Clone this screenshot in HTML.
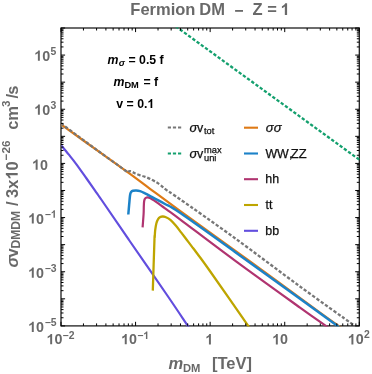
<!DOCTYPE html>
<html><head><meta charset="utf-8"><title>Fermion DM - Z = 1</title>
<style>html,body{margin:0;padding:0;background:#fff;}body{width:372px;height:374px;overflow:hidden;font-family:"Liberation Sans",sans-serif;}</style>
</head><body>
<div id="plot" style="width:372px;height:374px;will-change:transform;background:#fff">
<svg width="372" height="374" viewBox="0 0 372 374" style="display:block;font-family:'Liberation Sans',sans-serif">
<rect width="372" height="374" fill="#fff"/>
<defs><clipPath id="c"><rect x="61.5" y="27.4" width="298.40000000000003" height="299.09999999999997"/></clipPath></defs>
<rect x="61.0" y="28.0" width="298.3" height="297.9" fill="none" stroke="#161616" stroke-width="1.25"/>
<g clip-path="url(#c)" fill="none" stroke-linejoin="round">
<path d="M61.00 145.10C62.27 146.65 66.14 151.28 68.65 154.40C71.16 157.52 73.14 159.87 76.06 163.80C78.98 167.73 83.03 173.53 86.20 178.00C89.37 182.47 92.48 186.93 95.05 190.60C97.62 194.27 95.94 191.77 101.60 200.00C107.26 208.23 118.10 224.17 129.00 240.00C139.90 255.83 157.22 280.72 167.00 295.00C176.78 309.28 182.92 318.61 187.70 325.70C192.48 332.79 194.37 335.59 195.70 337.56" stroke="#624EDE" stroke-width="2.2"/>
<path d="M152.80 290.60C153.08 282.17 154.13 248.88 154.45 240.00C154.77 231.12 154.57 238.93 154.70 237.30C154.82 235.67 154.92 232.53 155.20 230.20C155.48 227.87 155.92 225.15 156.40 223.30C156.88 221.45 157.45 220.15 158.10 219.10C158.75 218.05 159.55 217.43 160.30 217.00C161.05 216.57 161.75 216.50 162.60 216.50C163.45 216.50 164.10 216.43 165.40 217.00C166.70 217.57 168.68 218.47 170.40 219.90C172.12 221.33 173.97 223.52 175.75 225.60C177.53 227.68 179.31 230.08 181.10 232.40C182.89 234.72 184.70 237.13 186.50 239.50C188.30 241.87 190.28 244.47 191.90 246.60C193.52 248.73 193.32 248.40 196.20 252.30C199.08 256.20 200.53 257.73 209.20 270.00C217.87 282.27 240.37 314.67 248.20 325.90C256.03 337.13 254.87 335.46 256.20 337.37" stroke="#BEA500" stroke-width="2.3"/>
<path d="M142.60 227.40C142.77 225.17 143.40 217.47 143.60 214.00C143.80 210.53 143.72 208.68 143.80 206.60C143.88 204.52 143.93 202.77 144.10 201.50C144.27 200.23 144.52 199.60 144.80 199.00C145.08 198.40 145.37 198.17 145.80 197.90C146.23 197.63 146.60 197.33 147.40 197.40C148.20 197.47 149.50 197.80 150.60 198.30C151.70 198.80 151.60 198.72 154.00 200.40C156.40 202.08 160.67 205.25 165.00 208.40C169.33 211.55 168.33 210.60 180.00 219.30C191.67 228.00 215.00 245.88 235.00 260.60C255.00 275.32 284.87 296.72 300.00 307.60C315.13 318.48 320.17 321.90 325.80 325.90C331.43 329.90 332.47 330.63 333.80 331.57" stroke="#B03470" stroke-width="2.2"/>
<path d="M61.00 124.50C67.50 129.15 88.50 144.17 100.00 152.40C111.50 160.63 121.67 167.83 130.00 173.90C138.33 179.97 141.67 182.63 150.00 188.80C158.33 194.97 163.33 198.78 180.00 210.90C196.67 223.02 226.67 244.55 250.00 261.50C273.33 278.45 305.23 301.87 320.00 312.60C334.77 323.33 334.17 322.73 338.60 325.90C343.03 329.07 345.27 330.67 346.60 331.62" stroke="#DE7A16" stroke-width="2.2"/>
<path d="M128.30 214.50C128.45 212.78 128.93 207.20 129.20 204.20C129.47 201.20 129.70 198.28 129.90 196.50C130.10 194.72 130.18 194.28 130.40 193.50C130.62 192.72 130.77 192.25 131.20 191.80C131.63 191.35 132.18 191.03 133.00 190.80C133.82 190.57 134.92 190.35 136.10 190.40C137.28 190.45 138.62 190.62 140.10 191.10C141.58 191.58 143.38 192.52 145.00 193.30C146.62 194.08 148.30 194.98 149.80 195.80C151.30 196.62 151.47 196.83 154.00 198.20C156.53 199.57 160.67 201.57 165.00 204.00C169.33 206.43 168.33 204.82 180.00 212.80C191.67 220.78 215.00 237.58 235.00 251.90C255.00 266.23 283.02 286.47 300.00 298.75C316.98 311.03 329.42 320.15 336.90 325.60C344.38 331.05 343.57 330.45 344.90 331.42" stroke="#1C82C8" stroke-width="2.5"/>
<path d="M61.00 123.40C64.17 125.77 73.50 132.78 80.00 137.60C86.50 142.42 93.33 147.47 100.00 152.30C106.67 157.13 115.40 163.30 120.00 166.60C124.60 169.90 126.17 171.28 127.60 172.10C129.03 172.92 128.17 171.65 128.60 171.50C129.03 171.35 129.55 171.12 130.20 171.20C130.85 171.28 131.72 171.65 132.50 172.00C133.28 172.35 133.70 172.77 134.90 173.30C136.10 173.83 138.08 174.63 139.70 175.20C141.32 175.77 142.98 176.13 144.60 176.70C146.22 177.27 147.67 177.80 149.40 178.60C151.13 179.40 153.18 180.45 155.00 181.50C156.82 182.55 158.25 183.38 160.30 184.90C162.35 186.42 164.02 188.22 167.30 190.60C170.58 192.98 168.72 191.27 180.00 199.20C191.28 207.13 215.00 223.65 235.00 238.20C255.00 252.75 280.03 271.88 300.00 286.50C319.97 301.12 344.33 318.37 354.80 325.90C365.27 333.43 361.47 330.69 362.80 331.65" stroke="#777" stroke-width="2.3" stroke-dasharray="3.3 1.9"/>
<path d="M164.23 18 L362 161.64" stroke="#14A06E" stroke-width="2.3" stroke-dasharray="3.3 1.9" stroke-dashoffset="1.5"/>
</g>
<path d="M61.00 325.9v-4.1M61.00 28.0v4.1M83.45 325.9v-2.5M83.45 28.0v2.5M96.58 325.9v-2.5M96.58 28.0v2.5M105.90 325.9v-2.5M105.90 28.0v2.5M113.13 325.9v-2.5M113.13 28.0v2.5M119.03 325.9v-2.5M119.03 28.0v2.5M124.02 325.9v-2.5M124.02 28.0v2.5M128.35 325.9v-2.5M128.35 28.0v2.5M132.16 325.9v-2.5M132.16 28.0v2.5M135.57 325.9v-4.1M135.57 28.0v4.1M158.02 325.9v-2.5M158.02 28.0v2.5M171.16 325.9v-2.5M171.16 28.0v2.5M180.47 325.9v-2.5M180.47 28.0v2.5M187.70 325.9v-2.5M187.70 28.0v2.5M193.61 325.9v-2.5M193.61 28.0v2.5M198.60 325.9v-2.5M198.60 28.0v2.5M202.92 325.9v-2.5M202.92 28.0v2.5M206.74 325.9v-2.5M206.74 28.0v2.5M210.15 325.9v-4.1M210.15 28.0v4.1M232.60 325.9v-2.5M232.60 28.0v2.5M245.73 325.9v-2.5M245.73 28.0v2.5M255.05 325.9v-2.5M255.05 28.0v2.5M262.28 325.9v-2.5M262.28 28.0v2.5M268.18 325.9v-2.5M268.18 28.0v2.5M273.17 325.9v-2.5M273.17 28.0v2.5M277.50 325.9v-2.5M277.50 28.0v2.5M281.31 325.9v-2.5M281.31 28.0v2.5M284.73 325.9v-4.1M284.73 28.0v4.1M307.17 325.9v-2.5M307.17 28.0v2.5M320.31 325.9v-2.5M320.31 28.0v2.5M329.62 325.9v-2.5M329.62 28.0v2.5M336.85 325.9v-2.5M336.85 28.0v2.5M342.76 325.9v-2.5M342.76 28.0v2.5M347.75 325.9v-2.5M347.75 28.0v2.5M352.07 325.9v-2.5M352.07 28.0v2.5M355.89 325.9v-2.5M355.89 28.0v2.5M359.30 325.9v-4.1M359.30 28.0v4.1M61.0 325.90h4.1M359.3 325.90h-4.1M61.0 317.75h2.5M359.3 317.75h-2.5M61.0 312.98h2.5M359.3 312.98h-2.5M61.0 309.60h2.5M359.3 309.60h-2.5M61.0 306.97h2.5M359.3 306.97h-2.5M61.0 304.83h2.5M359.3 304.83h-2.5M61.0 303.01h2.5M359.3 303.01h-2.5M61.0 301.44h2.5M359.3 301.44h-2.5M61.0 300.06h2.5M359.3 300.06h-2.5M61.0 298.82h4.1M359.3 298.82h-4.1M61.0 290.67h2.5M359.3 290.67h-2.5M61.0 285.90h2.5M359.3 285.90h-2.5M61.0 282.51h2.5M359.3 282.51h-2.5M61.0 279.89h2.5M359.3 279.89h-2.5M61.0 277.74h2.5M359.3 277.74h-2.5M61.0 275.93h2.5M359.3 275.93h-2.5M61.0 274.36h2.5M359.3 274.36h-2.5M61.0 272.98h2.5M359.3 272.98h-2.5M61.0 271.74h4.1M359.3 271.74h-4.1M61.0 263.58h2.5M359.3 263.58h-2.5M61.0 258.82h2.5M359.3 258.82h-2.5M61.0 255.43h2.5M359.3 255.43h-2.5M61.0 252.81h2.5M359.3 252.81h-2.5M61.0 250.66h2.5M359.3 250.66h-2.5M61.0 248.85h2.5M359.3 248.85h-2.5M61.0 247.28h2.5M359.3 247.28h-2.5M61.0 245.89h2.5M359.3 245.89h-2.5M61.0 244.65h4.1M359.3 244.65h-4.1M61.0 236.50h2.5M359.3 236.50h-2.5M61.0 231.73h2.5M359.3 231.73h-2.5M61.0 228.35h2.5M359.3 228.35h-2.5M61.0 225.73h2.5M359.3 225.73h-2.5M61.0 223.58h2.5M359.3 223.58h-2.5M61.0 221.77h2.5M359.3 221.77h-2.5M61.0 220.20h2.5M359.3 220.20h-2.5M61.0 218.81h2.5M359.3 218.81h-2.5M61.0 217.57h4.1M359.3 217.57h-4.1M61.0 209.42h2.5M359.3 209.42h-2.5M61.0 204.65h2.5M359.3 204.65h-2.5M61.0 201.27h2.5M359.3 201.27h-2.5M61.0 198.64h2.5M359.3 198.64h-2.5M61.0 196.50h2.5M359.3 196.50h-2.5M61.0 194.69h2.5M359.3 194.69h-2.5M61.0 193.12h2.5M359.3 193.12h-2.5M61.0 191.73h2.5M359.3 191.73h-2.5M61.0 190.49h4.1M359.3 190.49h-4.1M61.0 182.34h2.5M359.3 182.34h-2.5M61.0 177.57h2.5M359.3 177.57h-2.5M61.0 174.19h2.5M359.3 174.19h-2.5M61.0 171.56h2.5M359.3 171.56h-2.5M61.0 169.42h2.5M359.3 169.42h-2.5M61.0 167.60h2.5M359.3 167.60h-2.5M61.0 166.03h2.5M359.3 166.03h-2.5M61.0 164.65h2.5M359.3 164.65h-2.5M61.0 163.41h4.1M359.3 163.41h-4.1M61.0 155.26h2.5M359.3 155.26h-2.5M61.0 150.49h2.5M359.3 150.49h-2.5M61.0 147.10h2.5M359.3 147.10h-2.5M61.0 144.48h2.5M359.3 144.48h-2.5M61.0 142.34h2.5M359.3 142.34h-2.5M61.0 140.52h2.5M359.3 140.52h-2.5M61.0 138.95h2.5M359.3 138.95h-2.5M61.0 137.57h2.5M359.3 137.57h-2.5M61.0 136.33h4.1M359.3 136.33h-4.1M61.0 128.17h2.5M359.3 128.17h-2.5M61.0 123.41h2.5M359.3 123.41h-2.5M61.0 120.02h2.5M359.3 120.02h-2.5M61.0 117.40h2.5M359.3 117.40h-2.5M61.0 115.25h2.5M359.3 115.25h-2.5M61.0 113.44h2.5M359.3 113.44h-2.5M61.0 111.87h2.5M359.3 111.87h-2.5M61.0 110.48h2.5M359.3 110.48h-2.5M61.0 109.25h4.1M359.3 109.25h-4.1M61.0 101.09h2.5M359.3 101.09h-2.5M61.0 96.32h2.5M359.3 96.32h-2.5M61.0 92.94h2.5M359.3 92.94h-2.5M61.0 90.32h2.5M359.3 90.32h-2.5M61.0 88.17h2.5M359.3 88.17h-2.5M61.0 86.36h2.5M359.3 86.36h-2.5M61.0 84.79h2.5M359.3 84.79h-2.5M61.0 83.40h2.5M359.3 83.40h-2.5M61.0 82.16h4.1M359.3 82.16h-4.1M61.0 74.01h2.5M359.3 74.01h-2.5M61.0 69.24h2.5M359.3 69.24h-2.5M61.0 65.86h2.5M359.3 65.86h-2.5M61.0 63.23h2.5M359.3 63.23h-2.5M61.0 61.09h2.5M359.3 61.09h-2.5M61.0 59.28h2.5M359.3 59.28h-2.5M61.0 57.71h2.5M359.3 57.71h-2.5M61.0 56.32h2.5M359.3 56.32h-2.5M61.0 55.08h4.1M359.3 55.08h-4.1M61.0 46.93h2.5M359.3 46.93h-2.5M61.0 42.16h2.5M359.3 42.16h-2.5M61.0 38.78h2.5M359.3 38.78h-2.5M61.0 36.15h2.5M359.3 36.15h-2.5M61.0 34.01h2.5M359.3 34.01h-2.5M61.0 32.20h2.5M359.3 32.20h-2.5M61.0 30.62h2.5M359.3 30.62h-2.5M61.0 29.24h2.5M359.3 29.24h-2.5M61.0 28.00h4.1M359.3 28.00h-4.1" stroke="#000" stroke-width="1.0" fill="none"/>
<g font-weight="bold" font-size="16.5" fill="#696969">
<text x="130.3" y="15.0">Fermion</text>
<text x="199.3" y="15.0">DM</text>
<text x="252.5" y="15.0">Z</text>
<text x="267.2" y="15.0">=</text>
<path transform="translate(280.60,15.00) scale(0.008057,-0.008057)" d="M806 0H525V1059Q371 915 162 846V1101Q272 1137 401 1237.5Q530 1338 578 1472H806Z"/>
<rect x="235.1" y="10.0" width="7.9" height="1.8"/>
</g>
<g font-weight="bold" fill="#696969">
<path transform="translate(46.52,344.20) scale(0.006982,-0.006982)" d="M806 0H525V1059Q371 915 162 846V1101Q272 1137 401 1237.5Q530 1338 578 1472H806Z"/><text x="54.47" y="344.20" font-size="14.3" xml:space="preserve">0</text>
<text x="62.62" y="338.90" font-size="10.4" xml:space="preserve">−2</text>
<path transform="translate(121.10,344.30) scale(0.006982,-0.006982)" d="M806 0H525V1059Q371 915 162 846V1101Q272 1137 401 1237.5Q530 1338 578 1472H806Z"/><text x="129.05" y="344.30" font-size="14.3" xml:space="preserve">0</text>
<text x="137.20" y="338.90" font-size="10.4" xml:space="preserve">−</text><path transform="translate(143.27,338.90) scale(0.005078,-0.005078)" d="M806 0H525V1059Q371 915 162 846V1101Q272 1137 401 1237.5Q530 1338 578 1472H806Z"/>
<path transform="translate(205.27,344.40) scale(0.006982,-0.006982)" d="M806 0H525V1059Q371 915 162 846V1101Q272 1137 401 1237.5Q530 1338 578 1472H806Z"/>
<path transform="translate(272.17,344.40) scale(0.006982,-0.006982)" d="M806 0H525V1059Q371 915 162 846V1101Q272 1137 401 1237.5Q530 1338 578 1472H806Z"/><text x="280.12" y="344.40" font-size="14.3" xml:space="preserve">0</text>
<path transform="translate(347.76,344.40) scale(0.006982,-0.006982)" d="M806 0H525V1059Q371 915 162 846V1101Q272 1137 401 1237.5Q530 1338 578 1472H806Z"/><text x="355.71" y="344.40" font-size="14.3" xml:space="preserve">0</text>
<text x="363.96" y="338.20" font-size="10.4" xml:space="preserve">2</text>
<text x="50.62" y="55.28" font-size="10.4" xml:space="preserve">5</text>
<path transform="translate(34.22,60.68) scale(0.006982,-0.006982)" d="M806 0H525V1059Q371 915 162 846V1101Q272 1137 401 1237.5Q530 1338 578 1472H806Z"/><text x="42.17" y="60.68" font-size="14.3" xml:space="preserve">0</text>
<text x="50.62" y="109.45" font-size="10.4" xml:space="preserve">3</text>
<path transform="translate(34.22,114.85) scale(0.006982,-0.006982)" d="M806 0H525V1059Q371 915 162 846V1101Q272 1137 401 1237.5Q530 1338 578 1472H806Z"/><text x="42.17" y="114.85" font-size="14.3" xml:space="preserve">0</text>
<path transform="translate(32.00,169.71) scale(0.006982,-0.006982)" d="M806 0H525V1059Q371 915 162 846V1101Q272 1137 401 1237.5Q530 1338 578 1472H806Z"/><text x="39.95" y="169.71" font-size="14.3" xml:space="preserve">0</text>
<text x="44.74" y="217.72" font-size="10.4" xml:space="preserve">−</text><path transform="translate(50.82,217.72) scale(0.005078,-0.005078)" d="M806 0H525V1059Q371 915 162 846V1101Q272 1137 401 1237.5Q530 1338 578 1472H806Z"/>
<path transform="translate(28.14,223.62) scale(0.006982,-0.006982)" d="M806 0H525V1059Q371 915 162 846V1101Q272 1137 401 1237.5Q530 1338 578 1472H806Z"/><text x="36.09" y="223.62" font-size="14.3" xml:space="preserve">0</text>
<text x="44.74" y="271.89" font-size="10.4" xml:space="preserve">−3</text>
<path transform="translate(28.14,277.79) scale(0.006982,-0.006982)" d="M806 0H525V1059Q371 915 162 846V1101Q272 1137 401 1237.5Q530 1338 578 1472H806Z"/><text x="36.09" y="277.79" font-size="14.3" xml:space="preserve">0</text>
<text x="44.74" y="326.05" font-size="10.4" xml:space="preserve">−5</text>
<path transform="translate(28.14,331.95) scale(0.006982,-0.006982)" d="M806 0H525V1059Q371 915 162 846V1101Q272 1137 401 1237.5Q530 1338 578 1472H806Z"/><text x="36.09" y="331.95" font-size="14.3" xml:space="preserve">0</text>
</g>
<g font-weight="bold" fill="#696969">
<text x="168.4" y="369.3" font-size="16.5" font-style="italic">m</text>
<text x="183.0" y="371.8" font-size="11.2">DM</text>
<text x="212" y="369.3" font-size="16.5">[TeV]</text>
</g>
<g font-weight="bold" fill="#696969" transform="translate(17.7,267.4) rotate(-90)">
<text x="0" y="0" font-size="16.5" font-style="italic">σ</text>
<text x="9.9" y="0" font-size="16.5">v</text>
<text x="19.0" y="2.4" font-size="12">DMDM</text>
<text x="61.4" y="0" font-size="16.5">/</text>
<text x="69.50" y="0.00" font-size="16.5" xml:space="preserve">3x</text><path transform="translate(87.85,0.00) scale(0.008057,-0.008057)" d="M806 0H525V1059Q371 915 162 846V1101Q272 1137 401 1237.5Q530 1338 578 1472H806Z"/><text x="97.02" y="0.00" font-size="16.5" xml:space="preserve">0</text>
<text x="107.1" y="-7.6" font-size="11.7">−26</text>
<text x="137.6" y="0" font-size="16.5">cm</text>
<text x="160.5" y="-8.0" font-size="11.7">3</text>
<text x="168.8" y="0" font-size="16.5">/</text>
<text x="172.6" y="0" font-size="16.5">s</text>
</g>
<g font-weight="bold" fill="#000" font-size="12.3">
<text x="107.4" y="64.25" font-style="italic">m</text><text x="118.8" y="66.2" font-size="9.3" font-style="italic">σ</text><text x="128.5" y="64.25">= 0.5 f</text>
<text x="113.6" y="86.25" font-style="italic">m</text><text x="124.4" y="88.1" font-size="9.3">DM</text><text x="143.4" y="86.25">= f</text>
<text x="116.30" y="107.90" font-size="12.3" xml:space="preserve">v = 0.</text><path transform="translate(147.42,107.90) scale(0.006006,-0.006006)" d="M806 0H525V1059Q371 915 162 846V1101Q272 1137 401 1237.5Q530 1338 578 1472H806Z"/>
</g>
<g fill="none">
<path d="M167.8 127.6H181.2" stroke="#777" stroke-width="2" stroke-dasharray="3.2 1.9"/>
<path d="M167.8 153.4H181.2" stroke="#14A06E" stroke-width="2" stroke-dasharray="3.2 1.9"/>
<path d="M244 127.69999999999999H258" stroke="#DE7A16" stroke-width="2.1"/>
<path d="M244 153.5H258" stroke="#1C82C8" stroke-width="2.1"/>
<path d="M244 179.2H258" stroke="#B03470" stroke-width="2.1"/>
<path d="M244 205.0H258" stroke="#BEA500" stroke-width="2.1"/>
<path d="M244 230.79999999999998H258" stroke="#624EDE" stroke-width="2.1"/>
</g>
<g fill="#111" font-size="12.4" stroke="#111" stroke-width="0.25">
<text x="189.5" y="131.8" font-size="12.8" font-style="italic">σ</text><text x="197.0" y="131.8">v</text><text x="204.0" y="134.4" font-size="9.3">tot</text>
<text x="189.5" y="157.5" font-size="12.8" font-style="italic">σ</text><text x="197.0" y="157.5">v</text><text x="204.0" y="152.8" font-size="9.3">max</text><text x="204.0" y="161.3" font-size="9.3">uni</text>
<text x="265.8" y="131.8" font-size="13" font-style="italic">σσ</text>
<text x="265.6" y="157.5" textLength="23.1" lengthAdjust="spacing">WW</text><text x="288.9" y="157.5">,</text><text x="290.8" y="157.5" textLength="15.9" lengthAdjust="spacingAndGlyphs">ZZ</text>
<text x="265.3" y="183.4">hh</text>
<text x="265.5" y="209.1">tt</text>
<text x="265.3" y="235.0">bb</text>
</g>
</svg>
</div>
</body></html>
